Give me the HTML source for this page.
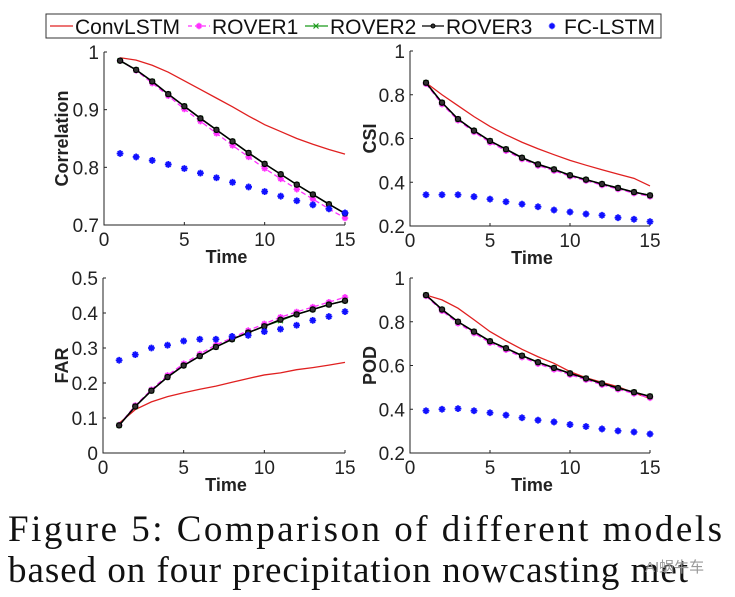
<!DOCTYPE html>
<html><head><meta charset="utf-8">
<style>
html,body{margin:0;padding:0;background:#fff;}
svg{display:block;}
text{font-family:"Liberation Sans",Arial,sans-serif;}
text.cap{font-family:"Liberation Serif","Times New Roman",serif;}
</style></head>
<body>
<svg id="fig" width="735" height="597" viewBox="0 0 735 597" xmlns="http://www.w3.org/2000/svg">
<g id="legend">
<rect x="46" y="14" width="615" height="24" fill="#fff" stroke="#333" stroke-width="1"/>
<line x1="50" y1="26" x2="73" y2="26" stroke="#e02020" stroke-width="1.3"/>
<text x="75" y="34" font-size="21" fill="#111">ConvLSTM</text>
<line x1="188" y1="26" x2="210" y2="26" stroke="#ff30ff" stroke-width="1.3" stroke-dasharray="4,3"/>
<g id="lg1"></g>
<text x="212" y="34" font-size="21" fill="#111">ROVER1</text>
<line x1="305" y1="26" x2="328" y2="26" stroke="#1a9a1a" stroke-width="1.3"/>
<g id="lg2"></g>
<text x="330" y="34" font-size="21" fill="#111">ROVER2</text>
<line x1="422" y1="26" x2="444" y2="26" stroke="#000" stroke-width="1.3"/>
<circle cx="433" cy="26" r="2" fill="#333" stroke="#000"/>
<text x="446" y="34" font-size="21" fill="#111">ROVER3</text>
<g id="lg4"></g>
<text x="564" y="34" font-size="21" fill="#111">FC-LSTM</text>
</g>
<g id="charts"></g>
<text class="cap" x="8" y="541" font-size="37" fill="#111" textLength="714" lengthAdjust="spacing">Figure 5:  Comparison of different models</text>
<text class="cap" x="8" y="582" font-size="37" fill="#111" textLength="680" lengthAdjust="spacing">based on four precipitation nowcasting met</text>
<text x="645" y="572" font-size="15" fill="#999">AI蜗牛车</text>
</svg>
<script>
const timeSteps = [1,2,3,4,5,6,7,8,9,10,11,12,13,14,15];
const xTicks = [0,5,10,15];

const corrConv = [0.990,0.986,0.977,0.965,0.950,0.935,0.920,0.905,0.889,0.874,0.862,0.850,0.840,0.831,0.823];
const corrR1 = [0.985,0.968,0.946,0.924,0.901,0.880,0.859,0.838,0.818,0.798,0.780,0.762,0.745,0.728,0.712];
const corrR2 = [0.985,0.969,0.949,0.927,0.906,0.885,0.865,0.845,0.825,0.806,0.788,0.770,0.753,0.736,0.720];
const corrR3 = [0.985,0.969,0.949,0.927,0.906,0.885,0.865,0.845,0.825,0.806,0.788,0.770,0.753,0.736,0.720];
const corrFC = [0.824,0.818,0.812,0.805,0.798,0.790,0.782,0.774,0.766,0.758,0.750,0.742,0.735,0.728,0.721];
const corrTicks = [0.7,0.8,0.9,1];

const csiConv = [0.855,0.800,0.750,0.700,0.655,0.617,0.583,0.553,0.526,0.500,0.478,0.457,0.437,0.418,0.383];
const csiR1 = [0.850,0.757,0.683,0.630,0.582,0.544,0.506,0.476,0.453,0.427,0.407,0.387,0.369,0.350,0.335];
const csiR2 = [0.855,0.764,0.689,0.636,0.589,0.551,0.512,0.482,0.459,0.432,0.412,0.392,0.374,0.355,0.340];
const csiR3 = [0.855,0.764,0.689,0.636,0.589,0.551,0.512,0.482,0.459,0.432,0.412,0.392,0.374,0.355,0.340];
const csiFC = [0.343,0.343,0.343,0.334,0.323,0.311,0.300,0.288,0.273,0.264,0.255,0.249,0.238,0.231,0.220];
const csiTicks = [0.2,0.4,0.6,0.8,1];

const farConv = [0.085,0.124,0.146,0.161,0.172,0.182,0.191,0.202,0.213,0.223,0.229,0.238,0.244,0.251,0.259];
const farR1 = [0.080,0.136,0.181,0.222,0.255,0.283,0.309,0.329,0.350,0.369,0.388,0.403,0.417,0.431,0.445];
const farR2 = [0.079,0.133,0.178,0.217,0.250,0.277,0.303,0.325,0.344,0.362,0.378,0.396,0.410,0.424,0.435];
const farR3 = [0.079,0.133,0.178,0.217,0.250,0.277,0.303,0.325,0.344,0.362,0.381,0.396,0.410,0.424,0.435];
const farFC = [0.265,0.281,0.300,0.308,0.320,0.325,0.325,0.333,0.336,0.347,0.354,0.365,0.379,0.390,0.404];
const farTicks = [0,0.1,0.2,0.3,0.4,0.5];

const podConv = [0.922,0.900,0.862,0.809,0.755,0.713,0.674,0.640,0.610,0.572,0.544,0.523,0.503,0.475,0.449];
const podR1 = [0.918,0.850,0.793,0.748,0.704,0.672,0.638,0.608,0.582,0.558,0.535,0.512,0.491,0.472,0.452];
const podR2 = [0.922,0.856,0.800,0.755,0.711,0.679,0.645,0.615,0.589,0.564,0.541,0.518,0.497,0.478,0.459];
const podR3 = [0.922,0.856,0.800,0.755,0.711,0.679,0.645,0.615,0.589,0.564,0.541,0.518,0.497,0.478,0.459];
const podFC = [0.393,0.400,0.403,0.393,0.384,0.373,0.361,0.350,0.342,0.330,0.321,0.310,0.301,0.296,0.287];
const podTicks = [0.2,0.4,0.6,0.8,1];

const NS = "http://www.w3.org/2000/svg";
function mk(tag, attrs, parent){
  const e = document.createElementNS(NS, tag);
  for (const k in attrs) e.setAttribute(k, attrs[k]);
  parent.appendChild(e);
  return e;
}
function star(g, cx, cy, s, color, w){
  return mk('path', {d:`M${cx-s},${cy}H${cx+s}M${cx},${cy-s}V${cy+s}M${cx-s*0.7},${cy-s*0.7}L${cx+s*0.7},${cy+s*0.7}M${cx-s*0.7},${cy+s*0.7}L${cx+s*0.7},${cy-s*0.7}`, stroke:color, 'stroke-width':w, fill:'none'}, g);
}
function cross(g, cx, cy, s, color){
  return mk('path', {d:`M${cx-s},${cy-s}L${cx+s},${cy+s}M${cx-s},${cy+s}L${cx+s},${cy-s}`, stroke:color, 'stroke-width':1.2, fill:'none'}, g);
}
star(document.getElementById('lg1'), 199, 26, 3.2, '#ff30ff', 1.6);
cross(document.getElementById('lg2'), 316, 26, 2.5, '#1a9a1a');
star(document.getElementById('lg4'), 552, 26, 3.2, '#1010ff', 1.6);

function chart(cfg){
  const root = document.getElementById('charts');
  const g = mk('g', {}, root);
  
  
  const X = v => cfg.x0 + v / 15 * (cfg.x1 - cfg.x0);
  const Y = v => cfg.yb - (v - cfg.ymin) / (cfg.ymax - cfg.ymin) * (cfg.yb - cfg.yt);
  const ax = mk('path', {d:`M${cfg.x0},${cfg.yt}V${cfg.yb}H${cfg.x1}`, stroke:'#222', 'stroke-width':1, fill:'none'}, g);
  
  
  xTicks.forEach(t => {
    mk('line', {x1:X(t), x2:X(t), y1:cfg.yb, y2:cfg.yb-3, stroke:'#222'}, g);
    const tx = mk('text', {x:X(t), y:cfg.yb+21, 'font-size':19, 'text-anchor':'middle', fill:'#222'}, g);
    tx.textContent = t;
    
    
  });
  cfg.ticks.forEach(t => {
    mk('line', {x1:cfg.x0, x2:cfg.x0+3, y1:Y(t), y2:Y(t), stroke:'#222'}, g);
    const tx = mk('text', {x:cfg.x0-5, y:Y(t)+7, 'font-size':19, 'text-anchor':'end', fill:'#222'}, g);
    tx.textContent = cfg.fmt(t);
    
    
  });
  const xl = mk('text', {x:(cfg.x0+cfg.x1)/2 + 2, y:cfg.yb+38, 'font-size':18, 'font-weight':'bold', 'text-anchor':'middle', fill:'#222'}, g);
  xl.textContent = 'Time';
  
  
  const yl = mk('text', {x:0, y:0, 'font-size':18, 'font-weight':'bold', 'text-anchor':'middle', fill:'#222', transform:`translate(${cfg.ylx},${(cfg.yt+cfg.yb)/2}) rotate(-90)`}, g);
  yl.textContent = cfg.ylabel;
  
  
  const pts = arr => arr.map((v,i) => `${X(timeSteps[i])},${Y(v)}`).join(' ');
  const l0 = mk('polyline', {points:pts(cfg.conv), fill:'none', stroke:'#e02020', 'stroke-width':1.3}, g);
  
  
  const l1 = mk('polyline', {points:pts(cfg.r1), fill:'none', stroke:'#ff30ff', 'stroke-width':1.3, 'stroke-dasharray':'5,3'}, g);
  
  
  cfg.r1.forEach((v,i) => {
    const m = star(g, X(timeSteps[i]), Y(v), 3.2, '#ff30ff', 1.6);
    
    
  });
  const l2 = mk('polyline', {points:pts(cfg.r2), fill:'none', stroke:'#1a9a1a', 'stroke-width':1.3}, g);
  
  
  cfg.r2.forEach((v,i) => {
    const m = cross(g, X(timeSteps[i]), Y(v), 2.5, '#1a9a1a');
    
    
  });
  const l3 = mk('polyline', {points:pts(cfg.r3), fill:'none', stroke:'#000', 'stroke-width':1.6}, g);
  
  
  cfg.r3.forEach((v,i) => {
    const m = mk('circle', {cx:X(timeSteps[i]), cy:Y(v), r:2.6, fill:'#333', stroke:'#000', 'stroke-width':1.2}, g);
    
    
  });
  cfg.fc.forEach((v,i) => {
    const m = star(g, X(timeSteps[i]), Y(v), 3.4, '#1010ff', 1.8);
    
    
  });
}
const f1 = t => t === 1 ? '1' : t.toFixed(1);
const f0 = t => (t === 0 || t === 1) ? String(t) : t.toFixed(1);
chart({name:'correlation-chart', x0:104, x1:345, yt:52, yb:225, ymin:0.7, ymax:1, ticks:corrTicks, fmt:f1, ylabel:'Correlation', ylx:68, conv:corrConv, r1:corrR1, r2:corrR2, r3:corrR3, fc:corrFC});
chart({name:'csi-chart', x0:410, x1:650, yt:51, yb:226, ymin:0.2, ymax:1, ticks:csiTicks, fmt:f0, ylabel:'CSI', ylx:376, conv:csiConv, r1:csiR1, r2:csiR2, r3:csiR3, fc:csiFC});
chart({name:'far-chart', x0:103, x1:345, yt:278, yb:453, ymin:0, ymax:0.5, ticks:farTicks, fmt:f0, ylabel:'FAR', ylx:68, conv:farConv, r1:farR1, r2:farR2, r3:farR3, fc:farFC});
chart({name:'pod-chart', x0:410, x1:650, yt:278, yb:453, ymin:0.2, ymax:1, ticks:podTicks, fmt:f0, ylabel:'POD', ylx:376, conv:podConv, r1:podR1, r2:podR2, r3:podR3, fc:podFC});
</script>
</body></html>
